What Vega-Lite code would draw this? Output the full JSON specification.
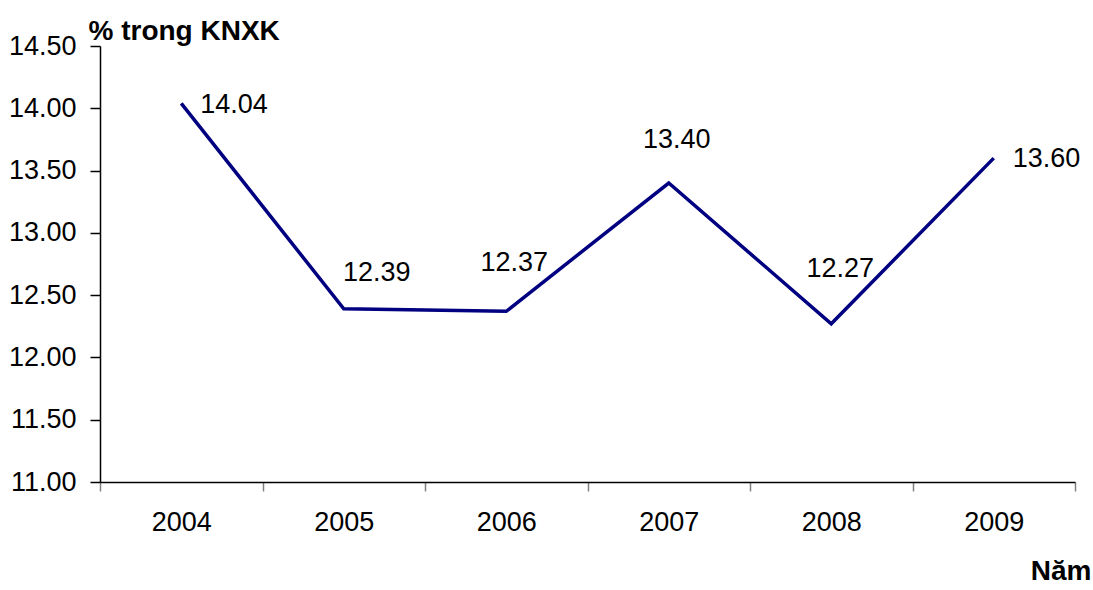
{
  "$schema": "https://vega.github.io/schema/vega-lite/v6.json",
  "width": 975,
  "height": 436,
  "autosize": {"type": "none"},
  "padding": {"left": 100, "top": 46, "right": 18, "bottom": 108},
  "background": "white",
  "config": {
    "font": "Liberation Sans",
    "view": {"stroke": null},
    "text": {"font": "Liberation Sans", "fontSize": 27, "color": "#000000"}
  },
  "data": {
    "values": [
      {"year": "2004", "value": 14.04},
      {"year": "2005", "value": 12.39},
      {"year": "2006", "value": 12.37},
      {"year": "2007", "value": 13.40},
      {"year": "2008", "value": 12.27},
      {"year": "2009", "value": 13.60}
    ]
  },
  "encoding": {
    "x": {
      "field": "year",
      "type": "ordinal",
      "bandPosition": 0.5,
      "scale": {"type": "band", "paddingInner": 0, "paddingOuter": 0},
      "axis": {
        "title": "Năm",
        "titleFont": "Liberation Sans",
        "titleFontSize": 28,
        "titleFontWeight": "bold",
        "titleColor": "#000000",
        "titleX": 991,
        "titleY": 97,
        "titleAlign": "right",
        "titleAnchor": null,
        "titleBaseline": "alphabetic",
        "labelAngle": 0,
        "labelFont": "Liberation Sans",
        "labelFontSize": 27,
        "labelColor": "#000000",
        "labelPadding": 18,
        "tickBand": "extent",
        "tickSize": 9,
        "tickColor": "#808080",
        "tickWidth": 1.5,
        "domainColor": "#000000",
        "domainWidth": 1.5,
        "grid": false
      }
    },
    "y": {
      "field": "value",
      "type": "quantitative",
      "scale": {"domain": [11, 14.5], "nice": false, "zero": false},
      "axis": {
        "title": "% trong KNXK",
        "titleFont": "Liberation Sans",
        "titleFontSize": 28,
        "titleFontWeight": "bold",
        "titleColor": "#000000",
        "titleAngle": 0,
        "titleX": -12,
        "titleY": -7,
        "titleAlign": "left",
        "titleAnchor": null,
        "titleBaseline": "alphabetic",
        "values": [11, 11.5, 12, 12.5, 13, 13.5, 14, 14.5],
        "format": ".2f",
        "labelFont": "Liberation Sans",
        "labelFontSize": 27,
        "labelColor": "#000000",
        "labelPadding": 14,
        "tickSize": 10,
        "tickColor": "#000000",
        "tickWidth": 1.5,
        "domainColor": "#000000",
        "domainWidth": 1.5,
        "grid": false
      }
    }
  },
  "layer": [
    {
      "mark": {"type": "line", "color": "#000080", "strokeWidth": 3.5}
    },
    {
      "transform": [{"filter": "datum.year == '2004'"}],
      "mark": {"type": "text", "align": "left", "baseline": "middle", "dx": 19, "dy": 2},
      "encoding": {"text": {"field": "value", "type": "quantitative", "format": ".2f"}}
    },
    {
      "transform": [{"filter": "datum.year == '2005'"}],
      "mark": {"type": "text", "align": "center", "baseline": "middle", "dx": 33, "dy": -36},
      "encoding": {"text": {"field": "value", "type": "quantitative", "format": ".2f"}}
    },
    {
      "transform": [{"filter": "datum.year == '2006'"}],
      "mark": {"type": "text", "align": "center", "baseline": "middle", "dx": 8, "dy": -48},
      "encoding": {"text": {"field": "value", "type": "quantitative", "format": ".2f"}}
    },
    {
      "transform": [{"filter": "datum.year == '2007'"}],
      "mark": {"type": "text", "align": "center", "baseline": "middle", "dx": 8, "dy": -43},
      "encoding": {"text": {"field": "value", "type": "quantitative", "format": ".2f"}}
    },
    {
      "transform": [{"filter": "datum.year == '2008'"}],
      "mark": {"type": "text", "align": "center", "baseline": "middle", "dx": 9, "dy": -55},
      "encoding": {"text": {"field": "value", "type": "quantitative", "format": ".2f"}}
    },
    {
      "transform": [{"filter": "datum.year == '2009'"}],
      "mark": {"type": "text", "align": "left", "baseline": "middle", "dx": 19, "dy": 1},
      "encoding": {"text": {"field": "value", "type": "quantitative", "format": ".2f"}}
    }
  ]
}
